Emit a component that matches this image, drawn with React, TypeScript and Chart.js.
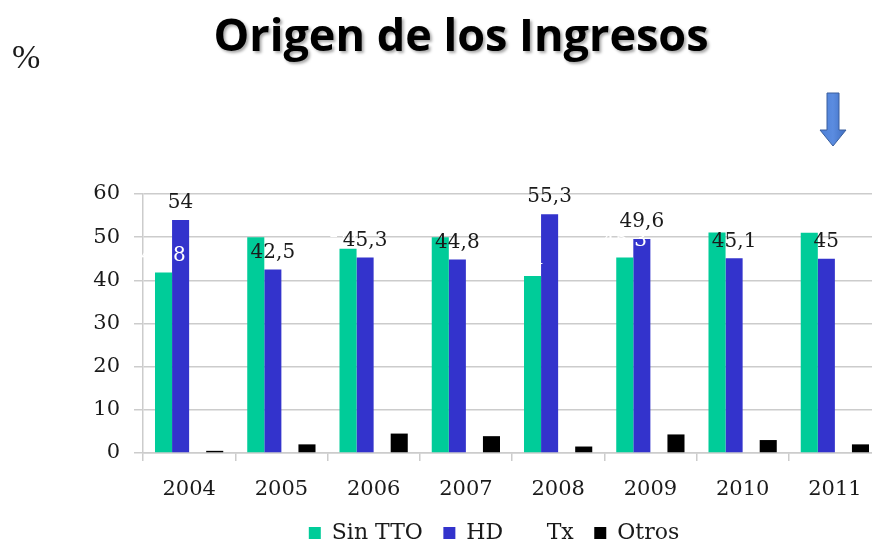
import React, { useEffect, useRef } from 'react';
import { Chart, registerables } from 'chart.js';

Chart.register(...registerables);

const categories = ['2004', '2005', '2006', '2007', '2008', '2009', '2010', '2011'];
const sinTTO = [41.8, 50, 47.3, 50, 41, 45.3, 51.1, 51];
const hd = [54, 42.5, 45.3, 44.8, 55.3, 49.6, 45.1, 45];
const tx: (number | null)[] = [null, null, null, null, null, null, null, null];
const otros = [0.5, 2, 4.5, 3.9, 1.5, 4.3, 3, 2];
const seriesNames = ['Sin TTO', 'HD', 'Tx', 'Otros'];
const seriesColors = ['#00CC99', '#3333CC', 'rgba(255,255,255,0)', '#000000'];
const labelColors: (string | null)[] = ['#ffffff', '#1a1a1a', null, null];

const SERIF = '"DejaVu Serif"';
const TEXT = '#1a1a1a';
const GRID = '#cccccc';

const valueLabels = {
  id: 'valueLabels',
  afterDatasetsDraw(chart: any) {
    const ctx = chart.ctx;
    ctx.save();
    ctx.font = `20px ${SERIF}`;
    ctx.textAlign = 'center';
    ctx.textBaseline = 'middle';
    chart.data.datasets.forEach((ds: any, i: number) => {
      const color = labelColors[i];
      if (!color) return;
      const meta = chart.getDatasetMeta(i);
      meta.data.forEach((el: any, j: number) => {
        const v = ds.data[j];
        if (v == null) return;
        ctx.fillStyle = color;
        ctx.fillText(String(v).replace('.', ','), el.x, el.y - 17);
      });
    });
    ctx.restore();
  },
};

export default function App() {
  const ref = useRef<HTMLCanvasElement | null>(null);

  useEffect(() => {
    if (!ref.current) return;
    const seriesData = [sinTTO, hd, tx, otros];
    const chart = new Chart(ref.current, {
      type: 'bar',
      data: {
        labels: categories,
        datasets: seriesNames.map((name, i) => ({
          label: name,
          data: seriesData[i],
          backgroundColor: seriesColors[i],
          borderWidth: 0,
          barPercentage: 1,
          categoryPercentage: 0.74,
          yAxisID: 'y',
        })),
      },
      options: {
        animation: false,
        responsive: false,
        events: [],
        layout: { padding: { left: 0, right: 12, top: 194, bottom: 0 } },
        plugins: {
          legend: {
            position: 'bottom',
            maxHeight: 43.5,
            labels: {
              font: { family: SERIF, size: 22 },
              color: TEXT,
              boxWidth: 12,
              boxHeight: 12,
              padding: 20.5,
            },
          },
          tooltip: { enabled: false },
          title: { display: false },
        },
        scales: {
          x: {
            grid: { drawOnChartArea: false, drawTicks: true, tickLength: 8, color: GRID, lineWidth: 1.5 },
            border: { color: GRID, width: 1.5 },
            ticks: { font: { family: SERIF, size: 21 }, color: TEXT, padding: 16 },
            afterFit: (s: any) => {
              s.height = 48.5;
            },
          },
          y: {
            position: 'left',
            min: 0,
            max: 60,
            ticks: { stepSize: 10, font: { family: SERIF, size: 21 }, color: TEXT, padding: 14 },
            grid: { color: GRID, lineWidth: 1.5, tickLength: 9 },
            border: { color: GRID, width: 1.5 },
            afterFit: (s: any) => {
              s.width = 143;
            },
          },
          spacer: {
            type: 'linear',
            position: 'right',
            display: true,
            min: 0,
            max: 60,
            ticks: { display: false },
            grid: { display: false, drawOnChartArea: false, drawTicks: false },
            border: { display: false },
            afterFit: (s: any) => {
              s.width = 107;
            },
          },
        },
      } as any,
      plugins: [valueLabels],
    });
    return () => chart.destroy();
  }, []);

  return (
    <div
      style={{
        position: 'fixed',
        left: 0,
        top: 0,
        width: 872,
        height: 545,
        overflow: 'hidden',
        background: '#ffffff',
      }}
    >
      <canvas
        ref={ref}
        width={1000}
        height={545}
        style={{ position: 'absolute', left: 0, top: 0, width: 1000, height: 545 }}
      />
      <div
        style={{
          position: 'absolute',
          left: 461,
          top: 11,
          transform: 'translateX(-50%)',
          fontFamily: '"Open Sans"',
          fontWeight: 700,
          fontSize: 45,
          lineHeight: 1,
          whiteSpace: 'nowrap',
          color: '#000',
          textShadow: '2px 2px 3px rgba(0,0,0,0.35)',
        }}
      >
        Origen de los Ingresos
      </div>
      <div
        style={{
          position: 'absolute',
          left: 12,
          top: 39.5,
          fontFamily: '"Liberation Serif"',
          fontSize: 34,
          lineHeight: 1,
          color: TEXT,
        }}
      >
        %
      </div>
      <svg
        width={40}
        height={70}
        style={{ position: 'absolute', left: 813, top: 85 }}
        viewBox="813 85 40 70"
      >
        <defs>
          <linearGradient id="arrowFill" x1="0" y1="0" x2="1" y2="0">
            <stop offset="0" stopColor="#4D7FD6" />
            <stop offset="0.5" stopColor="#5B8CE0" />
            <stop offset="1" stopColor="#3F6DC0" />
          </linearGradient>
        </defs>
        <polygon
          points="827,93 839,93 839,130 846,130 833,146 820,130 827,130"
          fill="url(#arrowFill)"
          stroke="#3A5F9E"
          strokeWidth={1}
        />
      </svg>
    </div>
  );
}
